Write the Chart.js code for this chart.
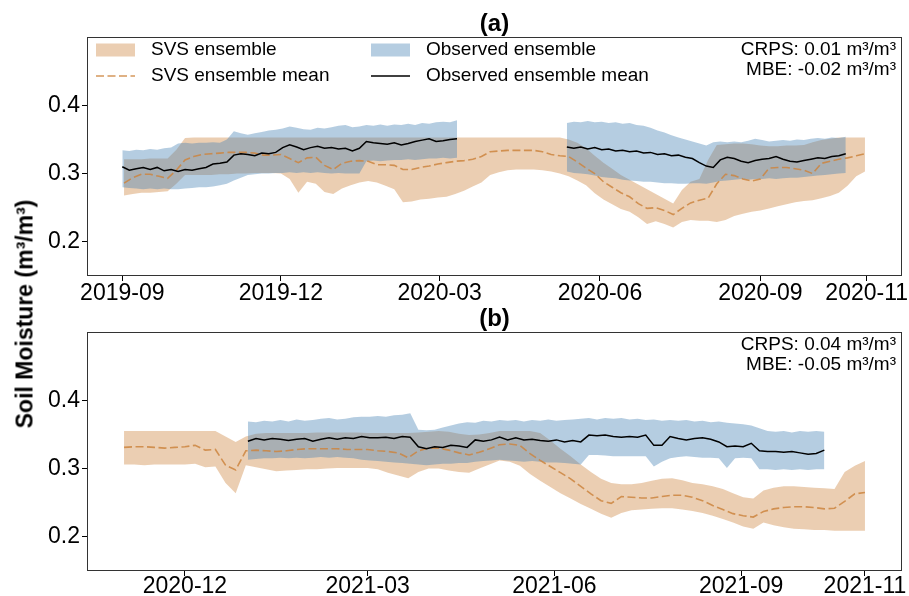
<!DOCTYPE html>
<html>
<head>
<meta charset="utf-8">
<script src="https://cdn.jsdelivr.net/npm/chart.js@4.4.1/dist/chart.umd.min.js"></script>
<style>
  html, body { margin: 0; padding: 0; background: #fff; }
  #wrap { position: relative; width: 909px; height: 596px; overflow: hidden; background: #fff; }
  #cA { position: absolute; left: 0; top: 0; }
  #cB { position: absolute; left: 0; top: 300px; }
  #ylab {
    position: absolute; left: 25px; top: 314px;
    transform: translate(-50%, -50%) rotate(-90deg);
    font: bold 23px "Liberation Sans", Arial, sans-serif;
    white-space: nowrap; color: #000;
  }
</style>
</head>
<body>
<div id="wrap">
  <canvas id="cA" width="909" height="310"></canvas>
  <canvas id="cB" width="909" height="296"></canvas>
  <div id="ylab">Soil Moisture (m³/m³)</div>
</div>
<script>
// ---------- Panel (a): Sep 2019 - Nov 2020 ----------
// SVS ensemble: 5-day samples starting 2019-09-02
const svsStartA = '2019-09-02';
const svsStepA = 5;
const svsHighA = [
  0.321, 0.321, 0.321, 0.322, 0.322, 0.322, 0.335, 0.352,
  0.353, 0.353, 0.353, 0.353, 0.353, 0.353, 0.353, 0.353, 0.353, 0.353,
  0.353, 0.353, 0.353, 0.353, 0.353, 0.353, 0.353, 0.353, 0.353, 0.353,
  0.353, 0.353, 0.353, 0.353, 0.353, 0.353, 0.353, 0.353, 0.353, 0.353,
  0.353, 0.353, 0.353, 0.353, 0.353, 0.353, 0.353, 0.353, 0.353, 0.353,
  0.353, 0.353,
  0.353, 0.350, 0.345, 0.337, 0.326, 0.316, 0.307, 0.298, 0.291, 0.284,
  0.277, 0.270, 0.263, 0.256, 0.276, 0.288, 0.292, 0.320, 0.342, 0.343,
  0.344, 0.344, 0.343, 0.341, 0.340, 0.340, 0.341, 0.341, 0.342, 0.346,
  0.349, 0.351, 0.353, 0.353, 0.353, 0.353
];
const svsMeanA = [
  0.286, 0.294, 0.299, 0.299, 0.296, 0.293, 0.305, 0.320, 0.325, 0.328,
  0.329, 0.330, 0.331, 0.331, 0.331, 0.330, 0.327, 0.327, 0.328, 0.322,
  0.316, 0.323, 0.324, 0.312, 0.306, 0.315, 0.318, 0.319, 0.318, 0.313,
  0.313, 0.312, 0.306, 0.306, 0.309, 0.311, 0.314, 0.316, 0.318, 0.319,
  0.321, 0.325, 0.332, 0.333, 0.334, 0.334, 0.334, 0.334, 0.332, 0.328,
  0.326, 0.325, 0.317, 0.308, 0.300, 0.288, 0.280, 0.272, 0.266, 0.256,
  0.249, 0.250, 0.246, 0.240, 0.249, 0.257, 0.261, 0.264, 0.285, 0.299,
  0.297, 0.292, 0.289, 0.292, 0.308, 0.309, 0.309, 0.307, 0.305, 0.300,
  0.315, 0.318, 0.321, 0.323, 0.326, 0.329
];
const svsLowA = [
  0.268, 0.270, 0.272, 0.272, 0.273, 0.274, 0.285, 0.298, 0.298, 0.298,
  0.298, 0.299, 0.299, 0.300, 0.300, 0.301, 0.301, 0.301, 0.300, 0.292,
  0.272, 0.288, 0.285, 0.273, 0.270, 0.278, 0.283, 0.287, 0.289, 0.287,
  0.282, 0.277, 0.258, 0.259, 0.262, 0.263, 0.265, 0.266, 0.270, 0.275,
  0.281, 0.287, 0.298, 0.302, 0.305, 0.306, 0.306, 0.306, 0.305, 0.303,
  0.300, 0.296, 0.290, 0.283, 0.271, 0.262, 0.255, 0.248, 0.244, 0.236,
  0.226, 0.230, 0.226, 0.221, 0.229, 0.232, 0.231, 0.231, 0.229, 0.232,
  0.238, 0.241, 0.244, 0.246, 0.249, 0.252, 0.255, 0.258, 0.260, 0.261,
  0.264, 0.267, 0.272, 0.282, 0.296, 0.303
];

// Observed ensemble, first record: 4-day samples from 2019-09-01
const obsStartA1 = '2019-09-01';
const obsStepA = 4;
const obsMeanA1 = [
  0.310, 0.305, 0.307, 0.309, 0.306, 0.309, 0.304, 0.306, 0.303, 0.306,
  0.305, 0.307, 0.309, 0.314, 0.315, 0.317, 0.327, 0.329, 0.328, 0.326,
  0.330, 0.329, 0.331, 0.338, 0.342, 0.339, 0.335, 0.338, 0.340, 0.337,
  0.338, 0.336, 0.337, 0.333, 0.337, 0.347, 0.345, 0.344, 0.343, 0.345,
  0.342, 0.344, 0.347, 0.349, 0.351, 0.347, 0.348, 0.350, 0.351
];
const obsHighA1 = [
  0.334, 0.333, 0.335, 0.334, 0.336, 0.335, 0.337, 0.338, 0.344, 0.345,
  0.344, 0.345, 0.345, 0.346, 0.345, 0.350, 0.362, 0.359, 0.357, 0.359,
  0.361, 0.363, 0.364, 0.366, 0.369, 0.367, 0.365, 0.364, 0.367, 0.366,
  0.368, 0.370, 0.371, 0.368, 0.369, 0.371, 0.370, 0.372, 0.370, 0.372,
  0.371, 0.373, 0.371, 0.374, 0.373, 0.375, 0.376, 0.375, 0.378
];
const obsLowA1 = [
  0.280, 0.279, 0.278, 0.277, 0.278, 0.277, 0.278, 0.277, 0.277, 0.278,
  0.279, 0.280, 0.280, 0.281, 0.283, 0.285, 0.290, 0.294, 0.298, 0.299,
  0.300, 0.300, 0.301, 0.301, 0.302, 0.301, 0.302, 0.301, 0.302, 0.301,
  0.300, 0.301, 0.300, 0.300, 0.300, 0.318, 0.319, 0.318, 0.319, 0.320,
  0.320, 0.321, 0.320, 0.321, 0.322, 0.322, 0.323, 0.322, 0.323
];

// Observed ensemble, second record: 4-day samples from 2020-05-13
const obsStartA2 = '2020-05-13';
const obsMeanA2 = [
  0.339, 0.337, 0.339, 0.336, 0.338, 0.335, 0.336, 0.333, 0.334, 0.332,
  0.333, 0.330, 0.331, 0.328, 0.329, 0.326, 0.327, 0.324, 0.322, 0.316,
  0.311, 0.309, 0.320, 0.324, 0.322, 0.318, 0.316, 0.319, 0.321, 0.322,
  0.325, 0.321, 0.318, 0.317, 0.319, 0.321, 0.323, 0.322, 0.325, 0.326,
  0.329
];
const obsHighA2 = [
  0.374, 0.376, 0.375, 0.377, 0.375, 0.376, 0.374, 0.375, 0.373, 0.374,
  0.371, 0.370, 0.367, 0.363, 0.360, 0.356, 0.353, 0.350, 0.347, 0.344,
  0.341, 0.346, 0.347, 0.346, 0.347, 0.346, 0.348, 0.351, 0.349, 0.347,
  0.348, 0.349, 0.348, 0.350, 0.349, 0.351, 0.352, 0.351, 0.353, 0.352,
  0.354
];
const obsLowA2 = [
  0.303, 0.301, 0.300, 0.299, 0.297, 0.295, 0.294, 0.293, 0.291, 0.290,
  0.289, 0.288, 0.288, 0.287, 0.286, 0.286, 0.285, 0.285, 0.286, 0.286,
  0.285, 0.287, 0.289, 0.290, 0.291, 0.292, 0.291, 0.292, 0.292, 0.293,
  0.292, 0.293, 0.294, 0.294, 0.295, 0.296, 0.297, 0.298, 0.299, 0.300,
  0.301
];

const tickLabelsA = ['2019-09', '2019-12', '2020-03', '2020-06', '2020-09', '2020-11'];
const scoresA = ['CRPS: 0.01 m³/m³', 'MBE: -0.02 m³/m³'];

// ---------- Panel (b): Nov 2020 - Nov 2021 ----------
const svsStartB = '2020-11-01';
const svsStepB = 5;
const svsHighB = [
  0.355, 0.355, 0.355, 0.355, 0.355, 0.355, 0.355, 0.355, 0.355, 0.355,
  0.347, 0.339, 0.347, 0.351, 0.352, 0.352, 0.352, 0.352, 0.352, 0.353,
  0.353, 0.353, 0.353, 0.353, 0.352, 0.352, 0.352, 0.352, 0.352, 0.353,
  0.354, 0.355, 0.354, 0.351, 0.349, 0.350, 0.352, 0.355, 0.355, 0.355,
  0.355, 0.352, 0.341, 0.329, 0.318, 0.306, 0.295, 0.285, 0.279, 0.277,
  0.277, 0.279, 0.282, 0.285, 0.286, 0.283, 0.279, 0.277, 0.274, 0.270,
  0.264, 0.258, 0.256, 0.268, 0.272, 0.274, 0.274, 0.273, 0.272, 0.271,
  0.270, 0.295, 0.304, 0.311
];
const svsMeanB = [
  0.331, 0.332, 0.332, 0.331, 0.330, 0.331, 0.332, 0.334, 0.327, 0.328,
  0.305, 0.298, 0.326, 0.327, 0.326, 0.325, 0.326, 0.328, 0.329, 0.329,
  0.329, 0.329, 0.328, 0.328, 0.328, 0.326, 0.325, 0.323, 0.316, 0.326,
  0.330, 0.330, 0.327, 0.323, 0.320, 0.324, 0.329, 0.335, 0.336, 0.334,
  0.322, 0.312, 0.303, 0.294, 0.285, 0.274, 0.263, 0.253, 0.249, 0.259,
  0.258, 0.257, 0.257, 0.259, 0.261, 0.261, 0.258, 0.253, 0.246, 0.240,
  0.234, 0.231, 0.229, 0.237, 0.241, 0.243, 0.244, 0.244, 0.243, 0.241,
  0.242, 0.252, 0.263, 0.265
];
const svsLowB = [
  0.306, 0.306, 0.305, 0.306, 0.306, 0.306, 0.306, 0.307, 0.302, 0.303,
  0.279, 0.264, 0.305, 0.302, 0.299, 0.296, 0.297, 0.298, 0.299, 0.299,
  0.300, 0.301, 0.301, 0.301, 0.301, 0.299, 0.294, 0.290, 0.286, 0.295,
  0.300, 0.300, 0.297, 0.295, 0.294, 0.300, 0.306, 0.312, 0.310, 0.304,
  0.292, 0.282, 0.273, 0.264, 0.256, 0.248, 0.241, 0.234, 0.228, 0.235,
  0.239, 0.240, 0.241, 0.242, 0.242, 0.240, 0.238, 0.235, 0.231, 0.226,
  0.221, 0.215, 0.212, 0.221, 0.217, 0.214, 0.212, 0.211, 0.210, 0.210,
  0.209, 0.209, 0.209, 0.209
];

const obsStartB = '2021-01-01';
const obsStepB = 4;
const obsMeanB = [
  0.340, 0.344, 0.342, 0.344, 0.343, 0.341, 0.343, 0.344, 0.340, 0.343,
  0.345, 0.343, 0.345, 0.344, 0.347, 0.345, 0.345, 0.346, 0.344, 0.347,
  0.346, 0.332, 0.329, 0.332, 0.331, 0.334, 0.333, 0.331, 0.342, 0.340,
  0.342, 0.346, 0.342, 0.345, 0.342, 0.343, 0.341, 0.340, 0.342, 0.339,
  0.341, 0.339, 0.349, 0.348, 0.349, 0.347, 0.346, 0.347, 0.346, 0.349,
  0.334, 0.334, 0.347, 0.344, 0.342, 0.344, 0.345, 0.343, 0.339, 0.332,
  0.333, 0.332, 0.337, 0.326, 0.325, 0.325, 0.324, 0.325, 0.323, 0.321,
  0.322, 0.327
];
const obsHighB = [
  0.369, 0.368, 0.370, 0.369, 0.371, 0.369, 0.372, 0.370, 0.371, 0.373,
  0.374, 0.372, 0.373, 0.375, 0.376, 0.376, 0.377, 0.376, 0.378, 0.379,
  0.381, 0.357, 0.356, 0.357, 0.360, 0.363, 0.366, 0.368, 0.367, 0.370,
  0.369, 0.371, 0.370, 0.371, 0.369, 0.371, 0.370, 0.372, 0.370, 0.371,
  0.372, 0.373, 0.374, 0.372, 0.374, 0.373, 0.374, 0.372, 0.373, 0.371,
  0.372, 0.370, 0.371, 0.370, 0.371, 0.369, 0.370, 0.368, 0.369, 0.367,
  0.366, 0.365, 0.363, 0.359, 0.355, 0.354, 0.355, 0.353, 0.355, 0.354,
  0.355, 0.354
];
const obsLowB = [
  0.313, 0.314, 0.315, 0.315, 0.316, 0.315, 0.316, 0.315, 0.316, 0.317,
  0.316, 0.317, 0.316, 0.315, 0.313, 0.312, 0.311, 0.310, 0.309, 0.308,
  0.307, 0.306, 0.305, 0.306, 0.307, 0.307, 0.308, 0.308, 0.310, 0.311,
  0.312, 0.313, 0.312, 0.311, 0.310, 0.311, 0.310, 0.309, 0.309, 0.308,
  0.307, 0.306, 0.320, 0.320, 0.319, 0.318, 0.318, 0.318, 0.318, 0.318,
  0.303, 0.310, 0.315, 0.317, 0.318, 0.317, 0.316, 0.316, 0.315, 0.301,
  0.315, 0.316, 0.315, 0.299, 0.299, 0.298, 0.299, 0.298, 0.299, 0.298,
  0.299, 0.299
];

const tickLabelsB = ['2020-12', '2021-03', '2021-06', '2021-09', '2021-11'];
const scoresB = ['CRPS: 0.04 m³/m³', 'MBE: -0.05 m³/m³'];

const yTicks = [0.2, 0.3, 0.4];

// ---------- styling ----------
const FONT = '"Liberation Sans", Arial, Helvetica, sans-serif';
const SVS_FILL = 'rgba(205, 133, 63, 0.4)';
const OBS_FILL = 'rgba(70, 130, 180, 0.4)';
const SVS_LINE = 'rgba(205, 133, 63, 0.85)';
const CLEAR = 'rgba(0,0,0,0)';
const DAY = 86400000;

function utc(s) {
  const p = s.split('-').map(Number);
  return Date.UTC(p[0], p[1] - 1, p[2] || 1);
}
function series(start, step, vals) {
  const t0 = utc(start);
  return vals.map((v, i) => ({ x: t0 + i * step * DAY, y: v }));
}
function monthLabel(ms) {
  const d = new Date(ms);
  return d.getUTCFullYear() + '-' + String(d.getUTCMonth() + 1).padStart(2, '0');
}

function buildDatasets(svs, obsSegs) {
  const ds = [];
  ds.push({ data: series(svs.start, svs.step, svs.low), borderColor: CLEAR, borderWidth: 0,
            pointRadius: 0, fill: false, order: 5 });
  ds.push({ data: series(svs.start, svs.step, svs.high), borderColor: CLEAR, borderWidth: 0,
            pointRadius: 0, fill: { target: 0 }, backgroundColor: SVS_FILL, order: 5 });
  obsSegs.forEach(seg => {
    const lowIndex = ds.length;
    ds.push({ data: series(seg.start, seg.step, seg.low), borderColor: CLEAR, borderWidth: 0,
              pointRadius: 0, fill: false, order: 4 });
    ds.push({ data: series(seg.start, seg.step, seg.high), borderColor: CLEAR, borderWidth: 0,
              pointRadius: 0, fill: { target: lowIndex }, backgroundColor: OBS_FILL, order: 4 });
  });
  ds.push({ data: series(svs.start, svs.step, svs.mean), borderColor: SVS_LINE, borderWidth: 1.6,
            borderDash: [8, 3.5], pointRadius: 0, fill: false, order: 2 });
  obsSegs.forEach(seg => {
    ds.push({ data: series(seg.start, seg.step, seg.mean), borderColor: '#000', borderWidth: 1.5,
              pointRadius: 0, fill: false, order: 1 });
  });
  return ds;
}

// frame, panel title and score text
function panelDecor(title, scores) {
  return {
    id: 'panelDecor',
    afterDraw(chart) {
      const { ctx, chartArea: a } = chart;
      ctx.save();
      ctx.strokeStyle = '#333';
      ctx.lineWidth = 1;
      ctx.strokeRect(Math.round(a.left) + 0.5, Math.round(a.top) + 0.5,
                     Math.round(a.right - a.left) - 1, Math.round(a.bottom - a.top) - 1);
      ctx.fillStyle = '#000';
      ctx.font = 'bold 24px ' + FONT;
      ctx.textAlign = 'center';
      ctx.textBaseline = 'middle';
      ctx.fillText(title, (a.left + a.right) / 2, a.top - 13);
      ctx.font = '19px ' + FONT;
      ctx.textAlign = 'right';
      ctx.fillText(scores[0], a.right - 6, a.top + 13);
      ctx.fillText(scores[1], a.right - 6, a.top + 33);
      ctx.restore();
    }
  };
}

// two-column legend in the upper-left corner of panel (a)
const legendItems = [
  { kind: 'patch', color: SVS_FILL, text: 'SVS ensemble', col: 0, row: 0 },
  { kind: 'dash', color: SVS_LINE, text: 'SVS ensemble mean', col: 0, row: 1 },
  { kind: 'patch', color: OBS_FILL, text: 'Observed ensemble', col: 1, row: 0 },
  { kind: 'line', color: '#000', text: 'Observed ensemble mean', col: 1, row: 1 }
];
const legendPlugin = {
  id: 'cornerLegend',
  afterDraw(chart) {
    const { ctx, chartArea: a } = chart;
    const colX = [a.left + 9, a.left + 284];
    const rowY = [a.top + 13, a.top + 39];
    ctx.save();
    ctx.font = '19px ' + FONT;
    ctx.textBaseline = 'middle';
    ctx.textAlign = 'left';
    legendItems.forEach(it => {
      const x = colX[it.col], y = rowY[it.row];
      if (it.kind === 'patch') {
        ctx.fillStyle = it.color;
        ctx.fillRect(x, y - 6.5, 39, 13);
      } else {
        ctx.strokeStyle = it.color;
        ctx.lineWidth = it.kind === 'dash' ? 1.6 : 1.5;
        ctx.setLineDash(it.kind === 'dash' ? [8, 3.5] : []);
        ctx.beginPath();
        ctx.moveTo(x, y);
        ctx.lineTo(x + 39, y);
        ctx.stroke();
        ctx.setLineDash([]);
      }
      ctx.fillStyle = '#000';
      ctx.fillText(it.text, x + 55, y);
    });
    ctx.restore();
  }
};

function makeChart(canvasId, cfg) {
  const svsX = series(cfg.svs.start, cfg.svs.step, cfg.svs.mean).map(p => p.x);
  const x0 = svsX[0], x1 = svsX[svsX.length - 1];
  const margin = (x1 - x0) * 0.05;
  const tickVals = cfg.tickLabels.map(utc);
  const plugins = [panelDecor(cfg.title, cfg.scores)];
  if (cfg.legend) plugins.push(legendPlugin);
  return new Chart(document.getElementById(canvasId), {
    type: 'line',
    data: { datasets: buildDatasets(cfg.svs, cfg.obs) },
    options: {
      responsive: false,
      animation: false,
      events: [],
      layout: { padding: { top: cfg.padTop, right: 7, left: 0, bottom: 0 } },
      plugins: { legend: { display: false }, tooltip: { enabled: false }, title: { display: false } },
      elements: { line: { tension: 0 } },
      scales: {
        x: {
          type: 'linear',
          min: x0 - margin,
          max: x1 + margin,
          border: { display: false },
          grid: { drawOnChartArea: false, drawTicks: true, tickLength: 5, color: '#000', tickColor: '#000' },
          ticks: {
            autoSkip: false, maxRotation: 0, minRotation: 0, padding: cfg.xPad, color: '#000',
            font: { family: FONT, size: 23 },
            callback: v => monthLabel(v)
          },
          afterBuildTicks: s => { s.ticks = tickVals.map(v => ({ value: v })); },
          afterFit: s => { s.height = cfg.xHeight; s.paddingLeft = 0; s.paddingRight = 0; }
        },
        y: {
          type: 'linear',
          min: 0.15,
          max: 0.5,
          border: { display: false },
          grid: { drawOnChartArea: false, drawTicks: true, tickLength: 5, color: '#000', tickColor: '#000' },
          ticks: {
            padding: 2, color: '#000',
            font: { family: FONT, size: 23 },
            callback: v => Number(v).toFixed(1)
          },
          afterBuildTicks: s => { s.ticks = yTicks.map(v => ({ value: v })); },
          afterFit: s => { s.width = 87; s.paddingTop = 0; s.paddingBottom = 0; }
        }
      }
    },
    plugins
  });
}

makeChart('cA', {
  title: '(a)', scores: scoresA, legend: true, padTop: 37, xHeight: 34, xPad: -1,
  tickLabels: tickLabelsA,
  svs: { start: svsStartA, step: svsStepA, low: svsLowA, mean: svsMeanA, high: svsHighA },
  obs: [
    { start: obsStartA1, step: obsStepA, low: obsLowA1, mean: obsMeanA1, high: obsHighA1 },
    { start: obsStartA2, step: obsStepA, low: obsLowA2, mean: obsMeanA2, high: obsHighA2 }
  ]
});

makeChart('cB', {
  title: '(b)', scores: scoresB, legend: false, padTop: 32, xHeight: 25, xPad: -3,
  tickLabels: tickLabelsB,
  svs: { start: svsStartB, step: svsStepB, low: svsLowB, mean: svsMeanB, high: svsHighB },
  obs: [
    { start: obsStartB, step: obsStepB, low: obsLowB, mean: obsMeanB, high: obsHighB }
  ]
});
</script>
</body>
</html>
